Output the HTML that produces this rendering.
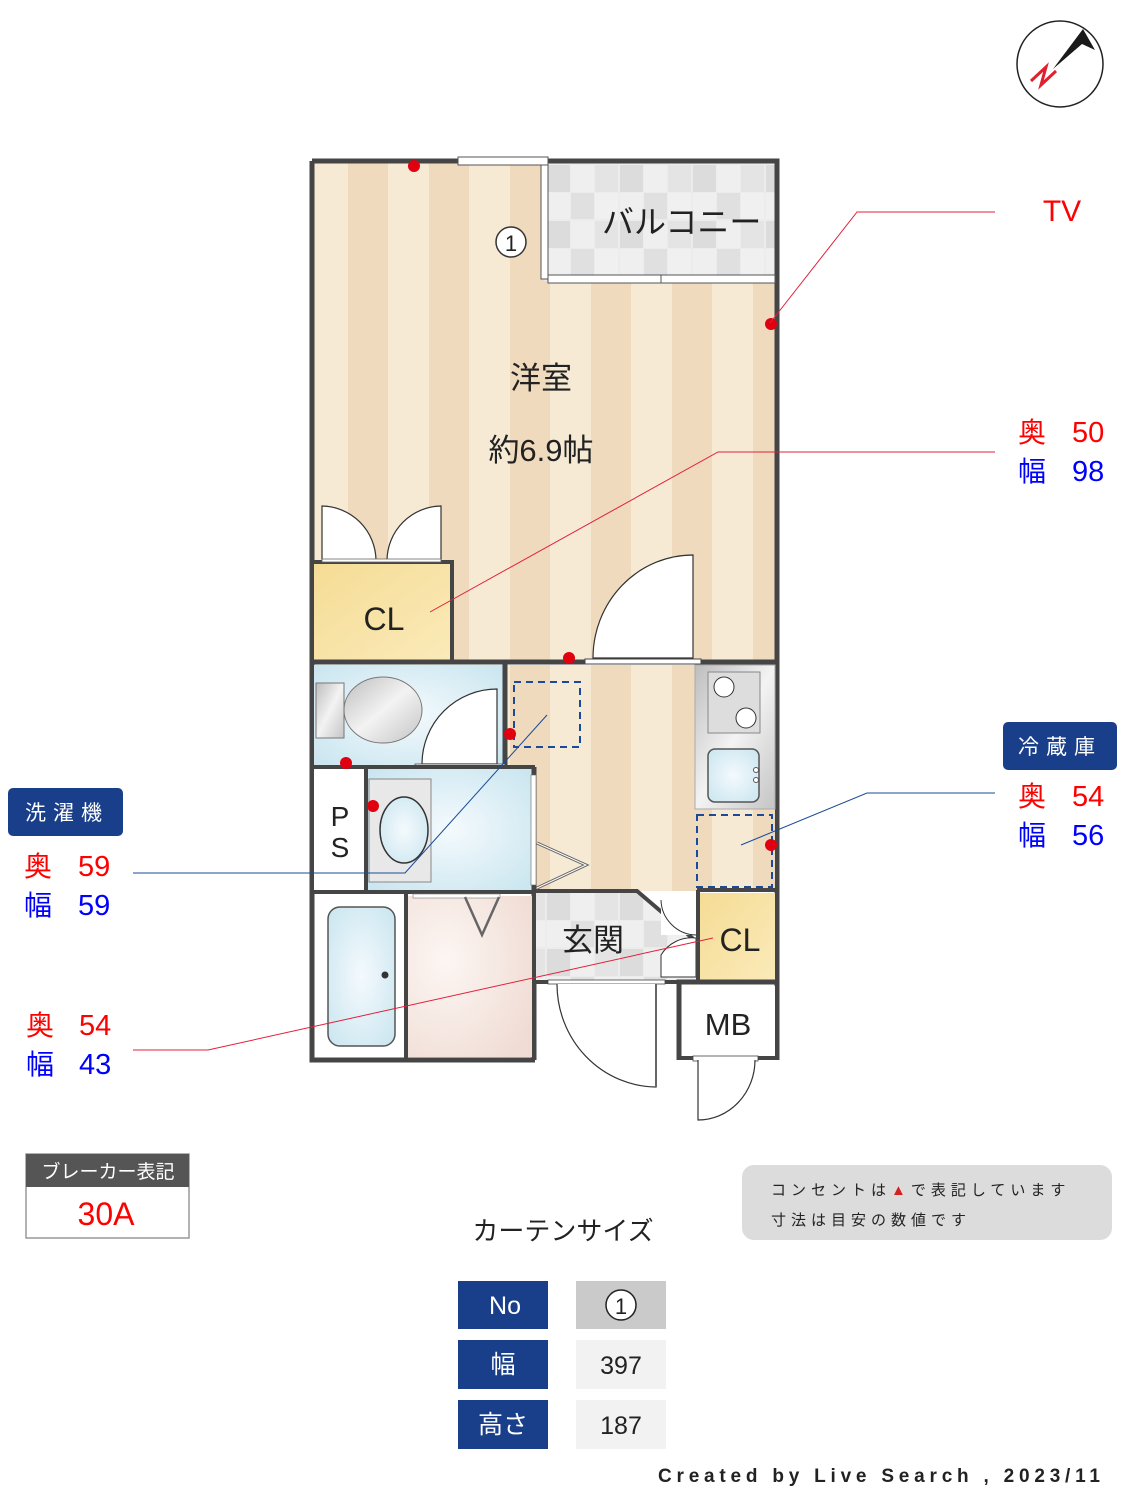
<!DOCTYPE html>
<html><head><meta charset="utf-8"><style>
html,body{margin:0;padding:0;background:#fff}
svg{display:block}
text{font-family:"Liberation Sans","Noto Sans CJK JP",sans-serif}
</style></head><body>
<svg width="1125" height="1500" viewBox="0 0 1125 1500" xmlns="http://www.w3.org/2000/svg">
<defs>
<pattern id="st" x="314" y="0" width="81" height="10" patternUnits="userSpaceOnUse">
<rect width="81" height="10" fill="#f6ead4"/><rect x="34" width="40" height="10" fill="#f0dabd"/>
</pattern>
<pattern id="tile" x="546" y="164" width="73" height="56" patternUnits="userSpaceOnUse">
<rect width="73" height="56" fill="#ececec"/>
<rect x="1" y="1" width="23" height="27" fill="#dcdcdc"/><rect x="25" y="1" width="23" height="27" fill="#efefef"/><rect x="49" y="1" width="23" height="27" fill="#e4e4e4"/>
<rect x="1" y="29" width="23" height="26" fill="#efefef"/><rect x="25" y="29" width="23" height="26" fill="#e0e0e0"/><rect x="49" y="29" width="23" height="26" fill="#f0f0f0"/>
</pattern>
<radialGradient id="bl" cx="0.5" cy="0.5" r="0.7"><stop offset="0" stop-color="#f4fafd"/><stop offset="1" stop-color="#c9e5ef"/></radialGradient>
<radialGradient id="pk" cx="0.3" cy="0.4" r="0.8"><stop offset="0" stop-color="#fcf6f3"/><stop offset="1" stop-color="#f0dcd4"/></radialGradient>
<linearGradient id="yl" x1="0" y1="0" x2="1" y2="1"><stop offset="0" stop-color="#f5dc95"/><stop offset="1" stop-color="#fbeab9"/></linearGradient>
<linearGradient id="gr" x1="0" y1="0" x2="1" y2="1"><stop offset="0" stop-color="#bdbdbd"/><stop offset="0.5" stop-color="#f3f3f3"/><stop offset="1" stop-color="#c4c4c4"/></linearGradient>
</defs>

<circle cx="1060" cy="64" r="43" fill="#fff" stroke="#222" stroke-width="1.5"/>
<polygon points="1053,69 1083,29 1095,50 1082,44" fill="#1a1a1a"/>
<polyline points="1031,81 1046,67 1041,85 1056,71" fill="none" stroke="#e0202e" stroke-width="3"/>

<rect x="312" y="161" width="465" height="501" fill="url(#st)"/>
<rect x="543" y="161" width="234" height="120" fill="url(#tile)"/>
<path d="M312,161 H777 V1060" fill="none" stroke="#454545" stroke-width="5"/>
<path d="M312,161 V1060 H535" fill="none" stroke="#454545" stroke-width="5"/>
<rect x="541" y="164" width="7" height="115" fill="#fff" stroke="#555" stroke-width="1"/>
<rect x="548" y="275" width="227" height="8" fill="#fff" stroke="#555" stroke-width="1"/>
<line x1="661" y1="275" x2="661" y2="283" stroke="#555"/>
<rect x="458" y="157" width="90" height="8" fill="#fff" stroke="#555" stroke-width="1"/>
<text x="602" y="233" font-size="32" fill="#222">バルコニー</text>
<circle cx="511" cy="242" r="15" fill="#fff" stroke="#333" stroke-width="1.5"/>
<text x="511" y="251" font-size="22" text-anchor="middle" fill="#222">1</text>
<text x="541" y="389" font-size="31" text-anchor="middle" fill="#222">洋室</text>
<text x="541" y="461" font-size="31" text-anchor="middle" fill="#222">約6.9帖</text>

<rect x="314" y="563" width="136" height="97" fill="url(#yl)"/>
<path d="M312,562 H452 V662" fill="none" stroke="#454545" stroke-width="4"/>
<text x="384" y="630" font-size="32" text-anchor="middle" fill="#222">CL</text>
<path d="M322,560 V506 A55,55 0 0 1 376,560 Z" fill="#fff" stroke="#333" stroke-width="1.2"/>
<path d="M441,560 V506 A55,55 0 0 0 387,560 Z" fill="#fff" stroke="#333" stroke-width="1.2"/>
<rect x="322" y="559" width="119" height="3" fill="#fff" stroke="#666" stroke-width="0.8"/>
<path d="M693,658 V555 A100,103 0 0 0 593,658 Z" fill="#fff" stroke="#333" stroke-width="1.2"/>

<line x1="312" y1="662" x2="777" y2="662" stroke="#454545" stroke-width="5"/>
<rect x="585" y="659" width="116" height="5" fill="#fff" stroke="#444" stroke-width="1"/>

<rect x="507" y="665" width="268" height="226" fill="url(#st)"/>
<rect x="695" y="665" width="80" height="144" fill="url(#gr)" stroke="#aaa"/>
<rect x="708" y="672" width="52" height="61" fill="#ddd" stroke="#888"/>
<circle cx="724" cy="687" r="10" fill="#fff" stroke="#333"/>
<circle cx="746" cy="718" r="10" fill="#fff" stroke="#333"/>
<rect x="708" y="749" width="51" height="53" rx="7" fill="url(#bl)" stroke="#555" stroke-width="1.5"/>
<circle cx="756" cy="770" r="2.5" fill="#fff" stroke="#555"/><circle cx="756" cy="780" r="2.5" fill="#fff" stroke="#555"/>
<rect x="697" y="815" width="75" height="72" fill="none" stroke="#1a4b9a" stroke-width="2" stroke-dasharray="7,5"/>
<rect x="514" y="682" width="66" height="65" fill="none" stroke="#1a4b9a" stroke-width="2" stroke-dasharray="7,5"/>

<rect x="314" y="665" width="189" height="100" fill="url(#bl)"/>
<rect x="316" y="683" width="28" height="55" fill="url(#gr)" stroke="#777"/>
<ellipse cx="383" cy="710" rx="39" ry="33" fill="url(#gr)" stroke="#777"/>
<path d="M497,764 V689 A75,75 0 0 0 422,764 Z" fill="#fff" stroke="#333" stroke-width="1.2"/>
<line x1="505" y1="662" x2="505" y2="768" stroke="#454545" stroke-width="5"/>
<rect x="415" y="764" width="90" height="4" fill="#fff" stroke="#444" stroke-width="0.8"/>
<line x1="312" y1="767" x2="535" y2="767" stroke="#454545" stroke-width="4"/>

<rect x="314" y="769" width="51" height="121" fill="#fff"/>
<line x1="366" y1="767" x2="366" y2="892" stroke="#454545" stroke-width="4"/>
<text x="340" y="826" font-size="28" text-anchor="middle" fill="#222">P</text>
<text x="340" y="857" font-size="28" text-anchor="middle" fill="#222">S</text>
<rect x="368" y="769" width="164" height="121" fill="url(#bl)"/>
<rect x="369" y="779" width="62" height="103" fill="#e8e8e8" stroke="#888"/>
<ellipse cx="404" cy="830" rx="24" ry="33" fill="url(#bl)" stroke="#333" stroke-width="1.5"/>
<line x1="534" y1="767" x2="534" y2="1060" stroke="#454545" stroke-width="5"/>
<rect x="531" y="775" width="5" height="110" fill="#fff" stroke="#666" stroke-width="0.6"/>
<polyline points="537,843 586,865 537,888" fill="none" stroke="#666" stroke-width="3"/>
<polyline points="537,843 586,865 537,888" fill="none" stroke="#fff" stroke-width="1"/>

<line x1="312" y1="892" x2="535" y2="892" stroke="#454545" stroke-width="4"/>
<rect x="316" y="896" width="89" height="161" fill="#fff"/>
<rect x="328" y="907" width="67" height="139" rx="12" fill="url(#bl)" stroke="#555" stroke-width="1.5"/>
<circle cx="385" cy="975" r="3.5" fill="#333"/>
<line x1="406" y1="892" x2="406" y2="1060" stroke="#454545" stroke-width="4"/>
<rect x="408" y="896" width="124" height="161" fill="url(#pk)"/>
<rect x="413" y="894" width="87" height="4" fill="#fff" stroke="#777" stroke-width="0.6"/>
<polyline points="465,897 482,935 499,897" fill="none" stroke="#666" stroke-width="2.5"/>

<path d="M536,892 H635 L698,945 V982 H536 Z" fill="url(#tile)"/>
<path d="M535,891 H637 L698,943" fill="none" stroke="#454545" stroke-width="4"/>
<path d="M696,935 L661,935 V900 H696 Z" fill="#fff"/>
<path d="M661,900 A36,36 0 0 0 696,935" fill="none" stroke="#333"/>
<path d="M696,977 H661 V955 A36,36 0 0 1 696,938 Z" fill="#fff" stroke="#333" stroke-width="1"/>
<text x="593" y="951" font-size="31" text-anchor="middle" fill="#222">玄関</text>
<line x1="535" y1="982" x2="700" y2="982" stroke="#454545" stroke-width="4"/>
<rect x="548" y="980" width="117" height="4" fill="#fff" stroke="#444" stroke-width="0.8"/>
<path d="M656,984 V1087 A100,103 0 0 1 557,984" fill="#fff" stroke="#333" stroke-width="1.2"/>
<line x1="656" y1="984" x2="656" y2="1087" stroke="#666" stroke-width="2"/>

<line x1="697" y1="890" x2="777" y2="890" stroke="#454545" stroke-width="4"/>
<line x1="698" y1="890" x2="698" y2="982" stroke="#454545" stroke-width="4"/>
<rect x="700" y="893" width="75" height="87" fill="url(#yl)"/>
<text x="740" y="951" font-size="32" text-anchor="middle" fill="#222">CL</text>
<path d="M679,1060 V982 H777" fill="none" stroke="#454545" stroke-width="5"/>
<rect x="682" y="986" width="93" height="71" fill="#fff"/>
<line x1="679" y1="1058" x2="779" y2="1058" stroke="#454545" stroke-width="4"/>
<rect x="693" y="1056" width="65" height="5" fill="#fff" stroke="#444" stroke-width="0.8"/>
<text x="728" y="1035" font-size="31" text-anchor="middle" fill="#222">MB</text>
<path d="M698,1060 V1120 A57,60 0 0 0 755,1060" fill="#fff" stroke="#333" stroke-width="1.2"/>

<g fill="#e00010">
<circle cx="414" cy="166" r="6"/><circle cx="771" cy="324" r="6"/><circle cx="569" cy="658" r="6"/>
<circle cx="346" cy="763" r="6"/><circle cx="510" cy="734" r="6"/><circle cx="373" cy="806" r="6"/><circle cx="771" cy="845" r="6"/>
</g>

<polyline points="770,323 857,212 995,212" fill="none" stroke="#e0203a" stroke-width="1"/>
<polyline points="430,612 718,452 995,452" fill="none" stroke="#e0203a" stroke-width="1"/>
<polyline points="547,715 405,873 133,873" fill="none" stroke="#1a4b9a" stroke-width="1"/>
<polyline points="741,845 867,793 995,793" fill="none" stroke="#1a4b9a" stroke-width="1"/>
<polyline points="713,938 208,1050 133,1050" fill="none" stroke="#e0203a" stroke-width="1"/>

<text x="1062" y="221" font-size="30" text-anchor="middle" fill="#ff0000">TV</text>
<text x="1018" y="442" font-size="28" fill="#ff0000">奥</text><text x="1072" y="442" font-size="29" fill="#ff0000">50</text>
<text x="1018" y="481" font-size="28" fill="#0000ff">幅</text><text x="1072" y="481" font-size="29" fill="#0000ff">98</text>
<rect x="1003" y="722" width="114" height="48" rx="5" fill="#1a3f8a"/>
<text x="1060" y="754" font-size="21" text-anchor="middle" fill="#fff" letter-spacing="7">冷蔵庫</text>
<text x="1018" y="806" font-size="28" fill="#ff0000">奥</text><text x="1072" y="806" font-size="29" fill="#ff0000">54</text>
<text x="1018" y="845" font-size="28" fill="#0000ff">幅</text><text x="1072" y="845" font-size="29" fill="#0000ff">56</text>

<rect x="8" y="788" width="115" height="48" rx="5" fill="#1a3f8a"/>
<text x="67" y="820" font-size="21" text-anchor="middle" fill="#fff" letter-spacing="7">洗濯機</text>
<text x="24" y="876" font-size="28" fill="#ff0000">奥</text><text x="78" y="876" font-size="29" fill="#ff0000">59</text>
<text x="24" y="915" font-size="28" fill="#0000ff">幅</text><text x="78" y="915" font-size="29" fill="#0000ff">59</text>
<text x="26" y="1035" font-size="28" fill="#ff0000">奥</text><text x="79" y="1035" font-size="29" fill="#ff0000">54</text>
<text x="26" y="1074" font-size="28" fill="#0000ff">幅</text><text x="79" y="1074" font-size="29" fill="#0000ff">43</text>

<rect x="26" y="1154" width="163" height="84" fill="#fff" stroke="#999" stroke-width="1.5"/>
<rect x="26" y="1154" width="163" height="33" fill="#555"/>
<text x="108" y="1178" font-size="19" text-anchor="middle" fill="#fff">ブレーカー表記</text>
<text x="106" y="1225" font-size="32" text-anchor="middle" fill="#ff0000">30A</text>

<rect x="742" y="1165" width="370" height="75" rx="12" fill="#dcdcdc"/>
<text x="771" y="1195" font-size="15" fill="#222" letter-spacing="5">コンセントは<tspan fill="#d42020">▲</tspan>で表記しています</text>
<text x="771" y="1225" font-size="15" fill="#222" letter-spacing="5">寸法は目安の数値です</text>

<text x="563" y="1240" font-size="26" text-anchor="middle" fill="#222">カーテンサイズ</text>
<rect x="458" y="1281" width="90" height="48" fill="#1a3f8a"/>
<rect x="458" y="1340" width="90" height="49" fill="#1a3f8a"/>
<rect x="458" y="1400" width="90" height="49" fill="#1a3f8a"/>
<rect x="576" y="1281" width="90" height="48" fill="#cacaca"/>
<rect x="576" y="1340" width="90" height="49" fill="#f2f2f2"/>
<rect x="576" y="1400" width="90" height="49" fill="#f2f2f2"/>
<text x="505" y="1314" font-size="25" text-anchor="middle" fill="#fff">No</text>
<text x="503" y="1373" font-size="25" text-anchor="middle" fill="#fff">幅</text>
<text x="503" y="1433" font-size="25" text-anchor="middle" fill="#fff">高さ</text>
<circle cx="621" cy="1305" r="15" fill="#fff" stroke="#222" stroke-width="1.5"/>
<text x="621" y="1314" font-size="22" text-anchor="middle" fill="#222">1</text>
<text x="621" y="1374" font-size="25" text-anchor="middle" fill="#222">397</text>
<text x="621" y="1434" font-size="25" text-anchor="middle" fill="#222">187</text>

<text x="658" y="1482" font-size="19" fill="#222" font-family="Liberation Mono, monospace" font-weight="bold" textLength="442" lengthAdjust="spacing">Created by Live Search , 2023/11</text>
</svg>
</body></html>
